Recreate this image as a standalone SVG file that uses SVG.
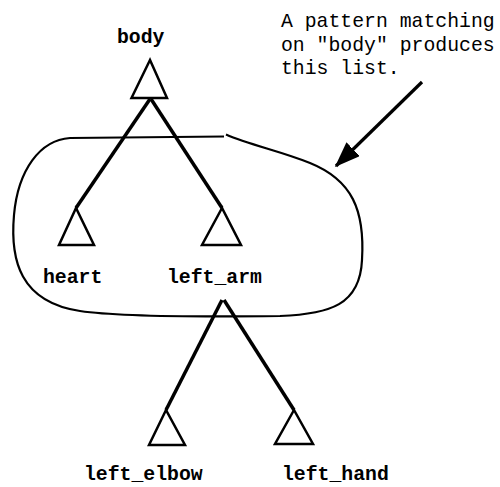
<svg xmlns="http://www.w3.org/2000/svg" width="500" height="487" viewBox="0 0 500 487">
<defs>
<style>
.lbl{font-family:"Liberation Mono","Courier New",monospace;font-size:19.8px;font-weight:bold;fill:#000}
.note{font-family:"Liberation Mono","Courier New",monospace;font-size:19.8px;fill:#000}
.tri{fill:#fff;stroke:#000;stroke-width:2.5;stroke-linejoin:miter}
.edge{stroke:#000;stroke-width:3.5;fill:none;stroke-linecap:butt}
.loop{stroke:#000;stroke-width:2.2;fill:none}
</style>
<marker id="ah" markerWidth="8" markerHeight="6" refX="7.5" refY="3" orient="auto" markerUnits="strokeWidth">
<path d="M0,0 L8,3 L0,6 Z" fill="#000"/>
</marker>
</defs>
<rect width="500" height="487" fill="#fff"/>
<g id="connectors">
<path class="loop" d="M224,136.5 L70,138 C40,140 18,170 14,215 C10,260 20,302 80,311 C120,317 200,317 280,316 C330,314 360,305 362,260 C365,210 352,180 310,163 C280,151 250,145 226,134.5"/>
<line class="edge" x1="150" y1="99" x2="76" y2="208"/>
<line class="edge" x1="151" y1="99" x2="222" y2="208"/>
<line class="edge" x1="222" y1="300" x2="166" y2="410"/>
<line class="edge" x1="224" y1="300" x2="294" y2="410"/>
<line x1="422" y1="82" x2="336" y2="166" stroke="#000" stroke-width="3.2" marker-end="url(#ah)"/>
</g>
<g id="body">
<polygon class="tri" points="150,60 131.5,98 167,98"/>
<text class="lbl" x="117" y="43">body</text>
</g>
<g id="heart">
<polygon class="tri" points="76,208 59,245 94,245"/>
<text class="lbl" x="43" y="283">heart</text>
</g>
<g id="left_arm">
<polygon class="tri" points="222,208 202,245 241,245"/>
<text class="lbl" x="167" y="283">left_arm</text>
</g>
<g id="left_elbow">
<polygon class="tri" points="166,410 149,445 185,445"/>
<text class="lbl" x="84" y="480">left_elbow</text>
</g>
<g id="left_hand">
<polygon class="tri" points="294,410 275,444 313,444"/>
<text class="lbl" x="282" y="480">left_hand</text>
</g>
<g id="note">
<text class="note" x="281" y="27">A pattern matching</text>
<text class="note" x="281" y="51">on "body" produces</text>
<text class="note" x="281" y="74">this list.</text>
</g>
</svg>
